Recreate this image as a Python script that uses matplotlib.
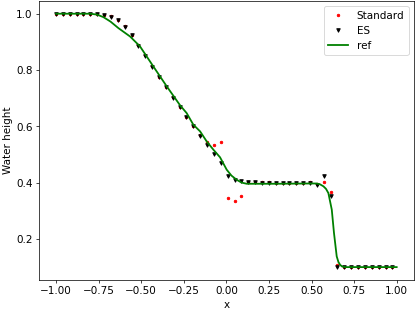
import numpy as np
import matplotlib
matplotlib.use("Agg")
import matplotlib.pyplot as plt

# cell positions of the numerical solutions
x_cells = np.linspace(-1.0, 0.975, 50)

# Standard scheme
h_standard = [1.000, 1.000, 1.000, 1.000, 1.000, 1.000, 1.000, 0.997, 0.991, 0.978,
              0.956, 0.926, 0.890, 0.853, 0.814, 0.776, 0.740, 0.704, 0.669, 0.634,
              0.601, 0.568, 0.543, 0.535, 0.543, 0.345, 0.336, 0.353, 0.404, 0.402,
              0.401, 0.401, 0.400, 0.400, 0.400, 0.400, 0.400, 0.401, 0.396, 0.403,
              0.368, 0.107, 0.100, 0.100, 0.100, 0.100, 0.100, 0.100, 0.100, 0.100]

# ES scheme
h_es = [1.000, 1.000, 1.000, 1.000, 1.000, 1.000, 0.999, 0.996, 0.990, 0.976,
        0.953, 0.923, 0.887, 0.851, 0.812, 0.774, 0.738, 0.702, 0.667, 0.632,
        0.600, 0.567, 0.534, 0.503, 0.471, 0.422, 0.410, 0.407, 0.403, 0.401,
        0.400, 0.400, 0.399, 0.399, 0.398, 0.398, 0.398, 0.398, 0.391, 0.424,
        0.351, 0.102, 0.100, 0.100, 0.100, 0.100, 0.100, 0.100, 0.100, 0.100]

# reference solution
x_ref = [-1.0, -0.80, -0.76, -0.722, -0.68, -0.634, -0.565, -0.507, -0.429, -0.35,
         -0.272, -0.233, -0.194, -0.154, -0.115, -0.076, -0.037, 0.002, 0.03, 0.061,
         0.09, 0.12, 0.30, 0.50, 0.531, 0.55, 0.57, 0.585, 0.599, 0.619,
         0.632, 0.648, 0.658, 0.668, 0.68, 0.697, 1.0]
h_ref = [1.000, 1.000, 0.997, 0.988, 0.972, 0.949, 0.919, 0.884, 0.813, 0.742,
         0.675, 0.647, 0.606, 0.582, 0.546, 0.517, 0.490, 0.446, 0.425, 0.410,
         0.400, 0.396, 0.396, 0.397, 0.397, 0.394, 0.387, 0.378, 0.363, 0.304,
         0.221, 0.138, 0.118, 0.108, 0.102, 0.100, 0.100]

plt.rcParams['font.size'] = 11.5

fig = plt.figure(figsize=(6.4, 4.8), dpi=415 / 6.4)
ax = fig.add_axes([39 / 415, 31.2 / 311, 374.7 / 415, 278.5 / 311])

ax.plot(x_cells, h_standard, 'r.', markersize=5.5, label='Standard')
ax.plot(x_cells, h_es, 'kv', markersize=4, label='ES')
ax.plot(x_ref, h_ref, 'g-', linewidth=2, label='ref')

ax.set_xlim(-1.1, 1.1)
ax.set_ylim(0.055, 1.045)
ax.set_xticks([-1.0, -0.75, -0.5, -0.25, 0.0, 0.25, 0.5, 0.75, 1.0])
ax.set_xticklabels(['−1.00', '−0.75', '−0.50', '−0.25', '0.00', '0.25', '0.50', '0.75', '1.00'])
ax.set_yticks([0.2, 0.4, 0.6, 0.8, 1.0])
ax.set_xlabel('x')
ax.set_ylabel('Water height')
ax.legend(loc='upper right')

fig.savefig('out.png', dpi=415 / 6.4)
